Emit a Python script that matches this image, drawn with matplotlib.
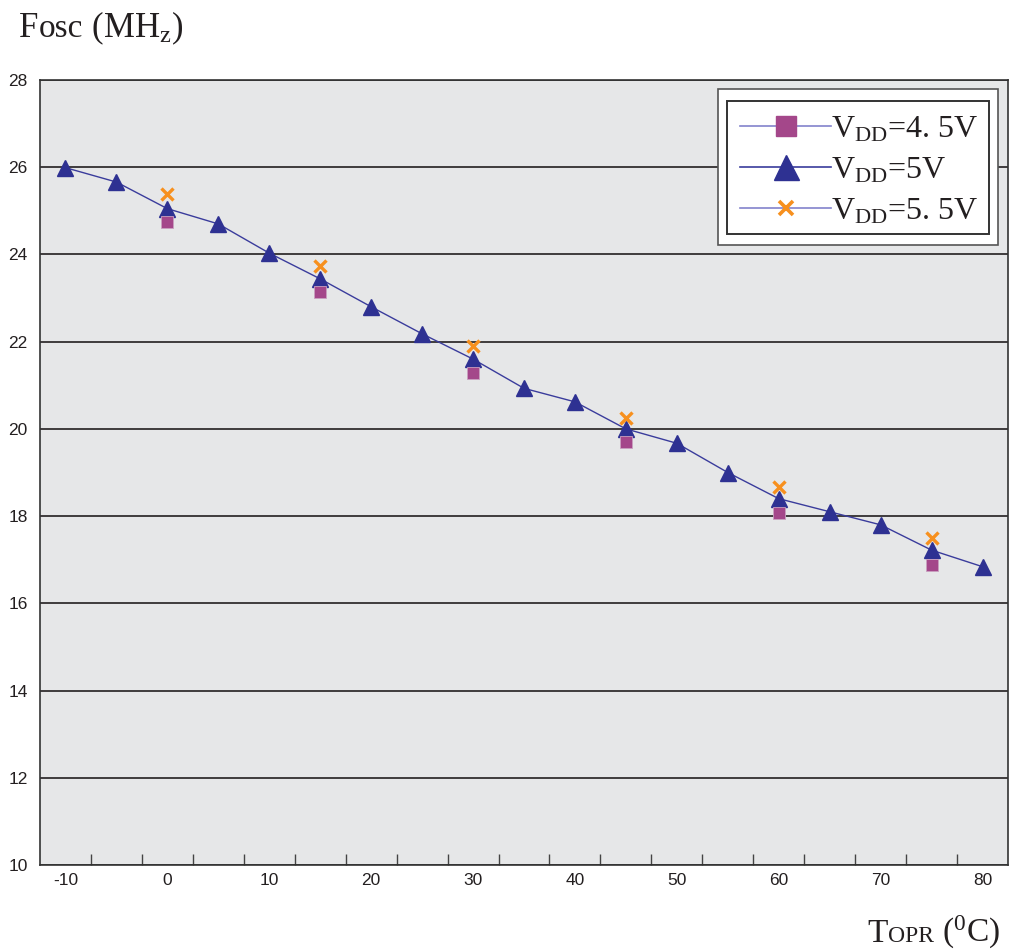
import matplotlib
matplotlib.use('Agg')
import matplotlib.pyplot as plt
from matplotlib.lines import Line2D
from matplotlib.patches import Rectangle

# ---- data ----
temps = [-10, -5, 0, 5, 10, 15, 20, 25, 30, 35, 40, 45, 50, 55, 60, 65, 70, 75, 80]
vdd50 = [25.99, 25.66, 25.05, 24.70, 24.03, 23.44, 22.80, 22.18, 21.60, 20.93,
         20.62, 20.00, 19.67, 19.00, 18.40, 18.10, 17.80, 17.22, 16.84]
temps_sparse = [0, 15, 30, 45, 60, 75]
vdd45 = [24.74, 23.13, 21.28, 19.69, 18.08, 16.89]
vdd55 = [25.39, 23.74, 21.89, 20.26, 18.66, 17.50]
labels = ['V$\\mathregular{_{DD}}$=4. 5V', 'V$\\mathregular{_{DD}}$=5V',
          'V$\\mathregular{_{DD}}$=5. 5V']
xtick_labels = ['-10', '0', '10', '20', '30', '40', '50', '60', '70', '80']
yticks = [10, 12, 14, 16, 18, 20, 22, 24, 26, 28]

navy = '#2e3192'
purple = '#a4478a'
orange = '#f7901e'
bg = '#e6e7e8'

W, H = 1013, 950
plt.rcParams['font.family'] = ['Liberation Sans', 'DejaVu Sans']
plt.rcParams['mathtext.fontset'] = 'custom'
plt.rcParams['mathtext.rm'] = 'Liberation Serif'

fig = plt.figure(figsize=(W / 100, H / 100), dpi=100)
ax = fig.add_axes([40 / W, 85 / H, 968 / W, 785 / H])
ax.set_facecolor(bg)

# x is categorical: one slot per 5 degrees
pos = {t: i for i, t in enumerate(temps)}
xs = [pos[t] for t in temps]
xs_sparse = [pos[t] for t in temps_sparse]

ax.plot(xs, vdd50, color='#3a3c9c', lw=1.0, marker='^', ms=11,
        mfc=navy, mec=navy, zorder=3)
ax.plot(xs_sparse, vdd45, ls='none', marker='s', ms=9, mfc=purple,
        mec='#c9a0c0', mew=0.6, zorder=4)
ax.plot(xs_sparse, vdd55, ls='none', marker='x', ms=8, mec=orange,
        mew=2.4, zorder=4)

ax.set_xlim(-0.5, len(temps) - 0.5)
ax.set_ylim(10, 28)
ax.set_yticks(yticks)
ax.set_xticks(range(0, len(temps), 2))
ax.set_xticklabels(xtick_labels)
ax.set_xticks([i + 0.5 for i in range(len(temps) - 1)], minor=True)
ax.tick_params(axis='x', which='major', length=0, pad=6, labelsize=12.5,
               labelcolor='#231f20')
ax.tick_params(axis='x', which='minor', direction='in', length=8,
               width=1, color='#444444')
ax.tick_params(axis='y', length=0, pad=9, labelsize=12.5,
               labelcolor='#231f20')

ax.yaxis.grid(True, color='#231f20', lw=1.2)
ax.set_axisbelow(True)
for s in ax.spines.values():
    s.set_color('#333333')
    s.set_linewidth(1.2)

# legend with double frame
fig.patches.append(Rectangle((718 / W, 1 - 245 / H), 280 / W, 156 / H,
                             transform=fig.transFigure, fc='white',
                             ec='#555555', lw=1.2, zorder=5))
fig.patches.append(Rectangle((727 / W, 1 - 234 / H), 262 / W, 133 / H,
                             transform=fig.transFigure, fc='white',
                             ec='#333333', lw=1.4, zorder=6))
handles = [
    Line2D([], [], color='#8383cc', lw=1.2, marker='s', ms=14, mfc=purple,
           mec=purple),
    Line2D([], [], color='#3a3c9c', lw=1.2, marker='^', ms=18, mfc=navy,
           mec=navy),
    Line2D([], [], color='#8383cc', lw=1.2, marker='x', ms=10, mec=orange,
           mew=2.6),
]
leg = fig.legend(handles, labels, loc='upper left',
                 bbox_to_anchor=(740 / W, 1 - 115 / H), frameon=False,
                 borderpad=0, borderaxespad=0, handlelength=2.85,
                 handletextpad=0.0, labelspacing=0.36,
                 prop={'family': 'Liberation Serif', 'size': 23})
leg.set_zorder(7)
for t in leg.get_texts():
    t.set_color('#231f20')


# axis titles built from pieces of different sizes
def rich_text(x, y, pieces, right=False):
    r = fig.canvas.get_renderer()
    texts = []
    for s, size in pieces:
        t = fig.text(0, 1 - y / H, s, fontsize=size, va='baseline',
                     ha='left', family='Liberation Serif', color='#231f20')
        texts.append((t, t.get_window_extent(r).width))
    if right:
        x -= sum(w for _, w in texts)
    for t, w in texts:
        t.set_x(x / W)
        x += w


rich_text(19, 37, [('F', 25), ('osc', 24), (' (MH$\\mathregular{_z}$)', 25)])
rich_text(1000, 942, [('T', 24), ('OPR', 17), (' ($\\mathregular{^0}$C)', 24)],
          right=True)

fig.savefig('out.png', dpi=100)
